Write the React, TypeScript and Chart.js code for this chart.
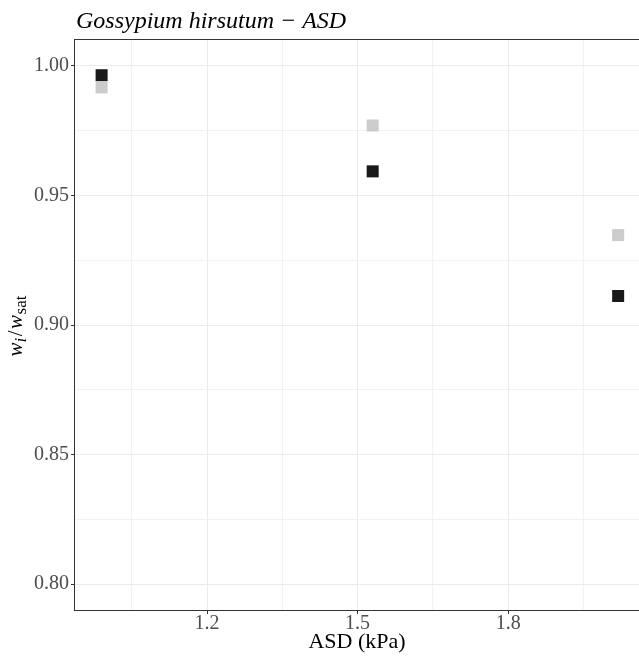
import React, { useEffect, useRef } from 'react';
import { Chart, registerables } from 'chart.js';

Chart.register(...registerables);

// ---- data ----
const asdValues = [0.99, 1.53, 2.019];
const seriesDark = [0.9964, 0.9593, 0.9112];
const seriesLight = [0.9917, 0.977, 0.9347];
const xMajorTicks = [1.2, 1.5, 1.8];
const xMinorTicks = [1.05, 1.35, 1.65, 1.95];
const yMajorTicks = [0.8, 0.85, 0.9, 0.95, 1.0];
const yMinorTicks = [0.825, 0.875, 0.925, 0.975];
const chartTitle = 'Gossypium hirsutum \u2212 ASD';
const xAxisTitle = 'ASD (kPa)';

const FONT = '"Liberation Serif", "Times New Roman", serif';

const isMajor = (list: number[], v: number) => list.some((m) => Math.abs(m - v) < 1e-6);

const decorPlugin = {
  id: 'decor',
  afterDraw(chart: any) {
    const { ctx, chartArea: a } = chart;
    ctx.save();
    // panel border
    ctx.strokeStyle = '#333333';
    ctx.lineWidth = 1;
    ctx.strokeRect(Math.round(a.left) - 0.5, Math.round(a.top) - 0.5, Math.round(a.right - a.left) + 1, Math.round(a.bottom - a.top) + 1);

    // title
    ctx.fillStyle = '#000000';
    ctx.textBaseline = 'alphabetic';
    ctx.textAlign = 'left';
    ctx.font = `italic 24px ${FONT}`;
    ctx.fillText(chartTitle, a.left + 1, 28);

    // x axis title (centred on the visible panel)
    ctx.font = `22px ${FONT}`;
    ctx.textAlign = 'center';
    ctx.fillText(xAxisTitle, (a.left + 639) / 2, 648);

    // y axis title: w_i / w_sat
    const segs = [
      { t: 'w', f: `italic 21px ${FONT}`, dy: 0, gap: 0 },
      { t: 'i', f: `italic 17px ${FONT}`, dy: 4, gap: 1.5 },
      { t: '/', f: `21px ${FONT}`, dy: 0, gap: 1.5 },
      { t: 'w', f: `italic 21px ${FONT}`, dy: 0, gap: 0.5 },
      { t: 'sat', f: `17px ${FONT}`, dy: 4, gap: 0 },
    ];
    let total = 0;
    const widths = segs.map((s) => {
      ctx.font = s.f;
      const w = ctx.measureText(s.t).width + s.gap;
      total += w;
      return w;
    });
    ctx.translate(22, (a.top + a.bottom) / 2 + 1);
    ctx.rotate(-Math.PI / 2);
    ctx.textAlign = 'left';
    let x = -total / 2;
    segs.forEach((s, i) => {
      ctx.font = s.f;
      ctx.fillText(s.t, x, s.dy);
      x += widths[i];
    });
    ctx.restore();
  },
};

export default function App() {
  const ref = useRef<HTMLCanvasElement | null>(null);

  useEffect(() => {
    document.body.style.margin = '0';
    const canvas = ref.current!;
    const xTicks = [...xMajorTicks, ...xMinorTicks].sort((a, b) => a - b);
    const yTicks = [...yMajorTicks, ...yMinorTicks].sort((a, b) => a - b);

    const chart = new Chart(canvas, {
      type: 'scatter',
      data: {
        datasets: [
          {
            label: 'light',
            data: asdValues.map((x, i) => ({ x, y: seriesLight[i] })),
            backgroundColor: '#CCCCCC',
            borderWidth: 0,
            pointStyle: 'rect',
            pointRadius: 8.5,
          },
          {
            label: 'dark',
            data: asdValues.map((x, i) => ({ x, y: seriesDark[i] })),
            backgroundColor: '#1A1A1A',
            borderWidth: 0,
            pointStyle: 'rect',
            pointRadius: 8.5,
          },
        ],
      },
      options: {
        responsive: false,
        animation: false,
        events: [],
        layout: { padding: { top: 40, left: 0, right: 16, bottom: 0 } },
        plugins: {
          legend: { display: false },
          tooltip: { enabled: false },
          title: { display: false },
        },
        scales: {
          x: {
            type: 'linear',
            min: 0.937,
            max: 2.0705,
            afterFit: (s: any) => {
              s.height = 48;
            },
            afterBuildTicks: (s: any) => {
              s.ticks = xTicks.map((v) => ({ value: v }));
            },
            border: { display: false },
            grid: {
              color: (c: any) => (isMajor(xMajorTicks, c.tick?.value) ? '#EBEBEB' : '#F2F2F2'),
              lineWidth: 1,
              tickColor: (c: any) => (isMajor(xMajorTicks, c.tick?.value) ? '#333333' : 'rgba(0,0,0,0)'),
              tickLength: 4,
              drawTicks: true,
            },
            ticks: {
              autoSkip: false,
              maxRotation: 0,
              padding: -2,
              color: '#4D4D4D',
              font: { family: FONT, size: 20 },
              callback: (v: any) => (isMajor(xMajorTicks, Number(v)) ? Number(v).toFixed(1) : ''),
            },
          },
          y: {
            type: 'linear',
            min: 0.79,
            max: 1.01,
            afterFit: (s: any) => {
              s.width = 75;
            },
            afterBuildTicks: (s: any) => {
              s.ticks = yTicks.map((v) => ({ value: v }));
            },
            border: { display: false },
            grid: {
              color: (c: any) => (isMajor(yMajorTicks, c.tick?.value) ? '#EBEBEB' : '#F2F2F2'),
              lineWidth: 1,
              tickColor: (c: any) => (isMajor(yMajorTicks, c.tick?.value) ? '#333333' : 'rgba(0,0,0,0)'),
              tickLength: 4,
              drawTicks: true,
            },
            ticks: {
              autoSkip: false,
              padding: 2,
              color: '#4D4D4D',
              font: { family: FONT, size: 20 },
              callback: (v: any) => (isMajor(yMajorTicks, Number(v)) ? Number(v).toFixed(2) : ''),
            },
          },
        },
      },
      plugins: [decorPlugin],
    });
    return () => chart.destroy();
  }, []);

  return (
    <div style={{ position: 'fixed', left: 0, top: 0, width: 639, height: 658, overflow: 'hidden', background: '#fff' }}>
      <canvas ref={ref} width={660} height={658} style={{ width: 660, height: 658, display: 'block' }} />
    </div>
  );
}
